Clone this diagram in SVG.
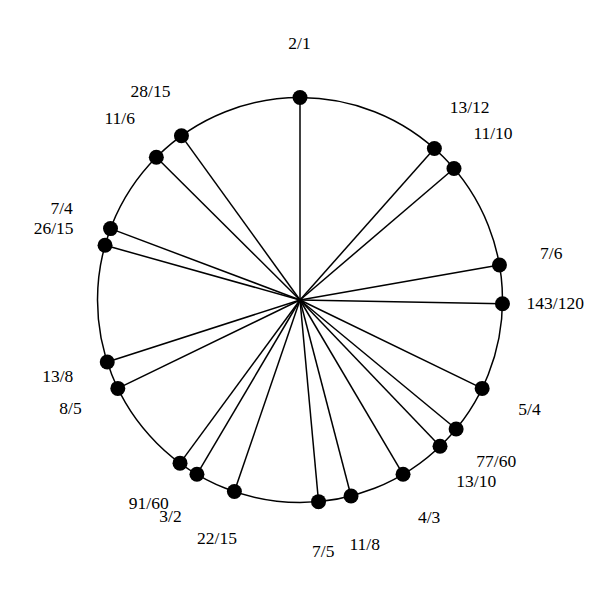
<svg xmlns="http://www.w3.org/2000/svg" width="600" height="600" viewBox="0 0 600 600">
<style>
.ring{fill:none;stroke:#000;stroke-width:1.5}
.spoke{stroke:#000;stroke-width:1.5}
.dot{fill:#000}
text{font-family:"Liberation Serif","Times New Roman",serif;font-size:17.5px;fill:#000;text-anchor:middle}
</style>
<rect width="600" height="600" fill="#fff"/>
<circle class="ring" cx="300" cy="300" r="202.5"/>
<g id="connectors">
<line class="spoke" x1="300" y1="300" x2="300" y2="97.5"/>
<line class="spoke" x1="300" y1="300" x2="434.38" y2="148.52"/>
<line class="spoke" x1="300" y1="300" x2="453.98" y2="168.49"/>
<line class="spoke" x1="300" y1="300" x2="499.46" y2="265.04"/>
<line class="spoke" x1="300" y1="300" x2="502.47" y2="303.78"/>
<line class="spoke" x1="300" y1="300" x2="482.16" y2="388.42"/>
<line class="spoke" x1="300" y1="300" x2="456.12" y2="428.97"/>
<line class="spoke" x1="300" y1="300" x2="440.02" y2="446.29"/>
<line class="spoke" x1="300" y1="300" x2="403.05" y2="474.32"/>
<line class="spoke" x1="300" y1="300" x2="351.04" y2="495.96"/>
<line class="spoke" x1="300" y1="300" x2="318.53" y2="501.65"/>
<line class="spoke" x1="300" y1="300" x2="234.38" y2="491.57"/>
<line class="spoke" x1="300" y1="300" x2="196.93" y2="474.32"/>
<line class="spoke" x1="300" y1="300" x2="180.03" y2="463.14"/>
<line class="spoke" x1="300" y1="300" x2="117.82" y2="388.42"/>
<line class="spoke" x1="300" y1="300" x2="107.24" y2="362.04"/>
<line class="spoke" x1="300" y1="300" x2="105.04" y2="245.27"/>
<line class="spoke" x1="300" y1="300" x2="110.50" y2="228.59"/>
<line class="spoke" x1="300" y1="300" x2="156.34" y2="157.29"/>
<line class="spoke" x1="300" y1="300" x2="181.46" y2="135.82"/>
</g>
<g id="n-2-1"><circle class="dot" cx="300" cy="97.5" r="7.5"/><text x="299.5" y="49.3">2/1</text></g>
<g id="n-13-12"><circle class="dot" cx="434.38" cy="148.52" r="7.5"/><text x="469.7" y="113.3">13/12</text></g>
<g id="n-11-10"><circle class="dot" cx="453.98" cy="168.49" r="7.5"/><text x="493" y="139.3">11/10</text></g>
<g id="n-7-6"><circle class="dot" cx="499.46" cy="265.04" r="7.5"/><text x="551.3" y="259.3">7/6</text></g>
<g id="n-143-120"><circle class="dot" cx="502.47" cy="303.78" r="7.5"/><text x="555.3" y="309">143/120</text></g>
<g id="n-5-4"><circle class="dot" cx="482.16" cy="388.42" r="7.5"/><text x="529.5" y="415">5/4</text></g>
<g id="n-77-60"><circle class="dot" cx="456.12" cy="428.97" r="7.5"/><text x="496.3" y="466.7">77/60</text></g>
<g id="n-13-10"><circle class="dot" cx="440.02" cy="446.29" r="7.5"/><text x="476.3" y="487.2">13/10</text></g>
<g id="n-4-3"><circle class="dot" cx="403.05" cy="474.32" r="7.5"/><text x="429.2" y="522.7">4/3</text></g>
<g id="n-11-8"><circle class="dot" cx="351.04" cy="495.96" r="7.5"/><text x="364.7" y="550">11/8</text></g>
<g id="n-7-5"><circle class="dot" cx="318.53" cy="501.65" r="7.5"/><text x="323.3" y="556.7">7/5</text></g>
<g id="n-22-15"><circle class="dot" cx="234.38" cy="491.57" r="7.5"/><text x="217" y="544.3">22/15</text></g>
<g id="n-3-2"><circle class="dot" cx="196.93" cy="474.32" r="7.5"/><text x="170.5" y="522.3">3/2</text></g>
<g id="n-91-60"><circle class="dot" cx="180.03" cy="463.14" r="7.5"/><text x="148.8" y="509.3">91/60</text></g>
<g id="n-8-5"><circle class="dot" cx="117.82" cy="388.42" r="7.5"/><text x="70.5" y="414">8/5</text></g>
<g id="n-13-8"><circle class="dot" cx="107.24" cy="362.04" r="7.5"/><text x="57.7" y="382.3">13/8</text></g>
<g id="n-26-15"><circle class="dot" cx="105.04" cy="245.27" r="7.5"/><text x="53.7" y="234.3">26/15</text></g>
<g id="n-7-4"><circle class="dot" cx="110.50" cy="228.59" r="7.5"/><text x="61.7" y="214">7/4</text></g>
<g id="n-11-6"><circle class="dot" cx="156.34" cy="157.29" r="7.5"/><text x="119.7" y="124">11/6</text></g>
<g id="n-28-15"><circle class="dot" cx="181.46" cy="135.82" r="7.5"/><text x="150.5" y="96.7">28/15</text></g>
</svg>
